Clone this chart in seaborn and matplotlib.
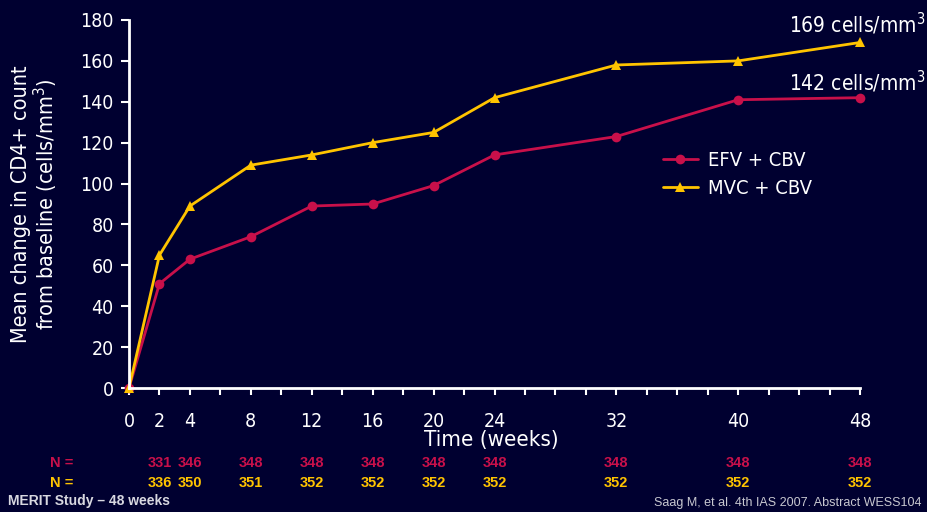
import matplotlib
matplotlib.use("Agg")
import matplotlib.pyplot as plt
import seaborn as sns
import pandas as pd

# CD4+ change from baseline by week
weeks = [0, 2, 4, 8, 12, 16, 20, 24, 32, 40, 48]
efv_cbv = [0, 51, 63, 74, 89, 90, 99, 114, 123, 141, 142]
mvc_cbv = [0, 65, 89, 109, 114, 120, 125, 142, 158, 160, 169]
n_efv = [331, 346, 348, 348, 348, 348, 348, 348, 348, 348]
n_mvc = [336, 350, 351, 352, 352, 352, 352, 352, 352, 352]
n_weeks = [2, 4, 8, 12, 16, 20, 24, 32, 40, 48]
series_names = ["EFV + CBV", "MVC + CBV"]
end_labels = ["142 cells/mm$^3$", "169 cells/mm$^3$"]

BG = "#000030"
RED = "#c8104a"
YELLOW = "#ffc400"
WHITE = "#ffffff"

sns.set_theme(style="white")
plt.rcParams["font.family"] = ["DejaVu Sans"]
plt.rcParams["font.stretch"] = "condensed"
plt.rcParams["mathtext.fontset"] = "dejavusans"

df = pd.DataFrame({
    "week": weeks * 2,
    "value": efv_cbv + mvc_cbv,
    "arm": [series_names[0]] * len(weeks) + [series_names[1]] * len(weeks),
})

fig = plt.figure(figsize=(9.27, 5.12), dpi=100, facecolor=BG)
ax = fig.add_axes([129 / 927, 1 - 388 / 512, 731 / 927, 368 / 512])
ax.set_facecolor(BG)

sns.lineplot(data=df, x="week", y="value", hue="arm", style="arm",
             palette={series_names[0]: RED, series_names[1]: YELLOW},
             markers={series_names[0]: "o", series_names[1]: "^"},
             dashes=False, markersize=7, markeredgewidth=0, linewidth=2,
             ax=ax, clip_on=False, legend=True)

ax.set_xlim(0, 48)
ax.set_ylim(0, 180)
ax.set_xticks(range(0, 49, 2))
ax.set_xticklabels([str(w) if w in weeks else "" for w in range(0, 49, 2)])
ax.set_yticks(range(0, 181, 20))

for side in ("top", "right"):
    ax.spines[side].set_visible(False)
for side in ("left", "bottom"):
    ax.spines[side].set_color(WHITE)
    ax.spines[side].set_linewidth(2)
ax.tick_params(axis="x", bottom=True, direction="out", length=5, width=1.5,
               colors=WHITE, labelsize=14, pad=12)
ax.tick_params(axis="y", left=True, direction="out", length=6, width=1.5,
               colors=WHITE, labelsize=14, pad=5)
for lab in ax.get_xticklabels() + ax.get_yticklabels():
    lab.set_color(WHITE)

ax.set_xlabel("Time (weeks)", color=WHITE, fontsize=16)
ax.xaxis.set_label_coords(0.495, -0.115)
ax.set_ylabel("Mean change in CD4+ count\nfrom baseline (cells/mm$^3$)",
              color=WHITE, fontsize=15.5, linespacing=1.0)
ax.yaxis.set_label_coords(-0.095, 0.5)

leg = ax.legend(loc="upper left", bbox_to_anchor=(0.72, 0.665), frameon=False,
                fontsize=14.5, handlelength=1.7, handletextpad=0.5,
                labelspacing=0.45, borderaxespad=0)
for t in leg.get_texts():
    t.set_color(WHITE)

# end-point values
ax.annotate(end_labels[1], xy=(48, mvc_cbv[-1]), xytext=(925, 488),
            textcoords="figure pixels", ha="right", va="center",
            color=WHITE, fontsize=15)
ax.annotate(end_labels[0], xy=(48, efv_cbv[-1]), xytext=(925, 430),
            textcoords="figure pixels", ha="right", va="center",
            color=WHITE, fontsize=15)

# patient numbers under the axis
trans = ax.get_xaxis_transform()
bold = ["Liberation Sans", "DejaVu Sans"]
fig.text(62 / 927, 1 - 463 / 512, "N =", color=RED, fontsize=10.5,
         fontweight="bold", family=bold, stretch="normal",
         ha="center", va="center")
fig.text(62 / 927, 1 - 483 / 512, "N =", color=YELLOW, fontsize=10.5,
         fontweight="bold", family=bold, stretch="normal",
         ha="center", va="center")
for w, a, b in zip(n_weeks, n_efv, n_mvc):
    ax.text(w, -(463 - 388) / 368, str(a), transform=trans, color=RED,
            fontsize=10.5, fontweight="bold", family=bold, stretch="normal",
            ha="center", va="center", clip_on=False)
    ax.text(w, -(483 - 388) / 368, str(b), transform=trans, color=YELLOW,
            fontsize=10.5, fontweight="bold", family=bold, stretch="normal",
            ha="center", va="center", clip_on=False)

fig.text(8 / 927, 1 - 501 / 512, "MERIT Study \u2013 48 weeks", color="#d8d8e0",
         fontsize=10, fontweight="bold", family=bold, stretch="normal",
         ha="left", va="center")
fig.text(922 / 927, 1 - 503 / 512,
         "Saag M, et al. 4th IAS 2007. Abstract WESS104",
         color="#c8c8d0", fontsize=9, family=bold, stretch="normal",
         ha="right", va="center")

fig.savefig("out.png", dpi=100, facecolor=BG)
